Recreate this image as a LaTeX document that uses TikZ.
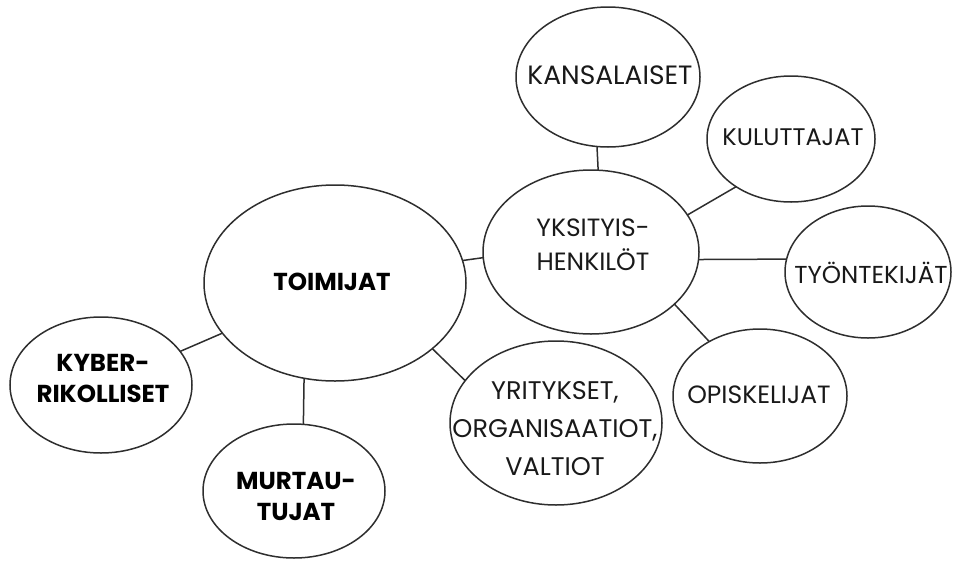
\documentclass[tikz,border=0pt]{standalone}
\usepackage{fontspec}
\setmainfont{Poppins}
\usetikzlibrary{shapes.geometric}
\tikzset{
  bub/.style={ellipse, draw=black!82, line width=1.5pt, inner sep=0pt, outer sep=0pt},
  conn/.style={draw=black!82, line width=1.5pt},
  lbl/.style={inner sep=0pt, align=center, text=black!90, font=\fontsize{25}{34}\selectfont},
  blbl/.style={inner sep=0pt, align=center, text=black, font=\fontsize{24.5}{31}\selectfont\bfseries},
}
\begin{document}
\begin{tikzpicture}[x=1pt,y=-1pt]
\useasboundingbox (0,0) rectangle (953,560);
% bubbles
\node[bub, minimum width=184pt, minimum height=140pt] (kans) at (608,77) {};
\node[bub, minimum width=168pt, minimum height=126pt] (kul) at (791,139) {};
\node[bub, minimum width=216pt, minimum height=164pt] (yks) at (591,252) {};
\node[bub, minimum width=166pt, minimum height=132pt] (tyo) at (868,272) {};
\node[bub, minimum width=174pt, minimum height=134pt] (opi) at (760,396) {};
\node[bub, minimum width=212pt, minimum height=164pt] (yri) at (556,423) {};
\node[bub, minimum width=262pt, minimum height=196pt] (toim) at (335,283) {};
\node[bub, minimum width=182pt, minimum height=136pt] (kyb) at (101,385) {};
\node[bub, minimum width=182pt, minimum height=134pt] (mur) at (294,491) {};
% labels
\node[lbl, font=\fontsize{26.5}{34}\selectfont] (kans-t) at (610,75) {KANSALAISET};
\node[lbl, font=\fontsize{24}{34}\selectfont] (kul-t) at (793,137) {KULUTTAJAT};
\node[lbl] (yks-t) at (593,245) {YKSITYIS-\\HENKILÖT};
\node[lbl, font=\fontsize{24.5}{34}\selectfont] (tyo-t) at (871,273) {TYÖNTEKIJÄT};
\node[lbl] (opi-t) at (759,395) {OPISKELIJAT};
\node[lbl, font=\fontsize{25.5}{38}\selectfont] (yri-t) at (555,429) {YRITYKSET,\\ORGANISAATIOT,\\VALTIOT};
\node[blbl] (toim-t) at (332,282) {TOIMIJAT};
\node[blbl] (kyb-t) at (103,378) {KYBER-\\RIKOLLISET};
\node[blbl] (mur-t) at (296,496) {MURTAU-\\TUJAT};
% connectors
\draw[conn] (kans.261.8) -- (yks.85);
\draw[conn] (kul.221.6) -- (yks.21.7);
\draw[conn] (yks.356.3) -- (tyo.171);
\draw[conn] (yks.328) -- (opi.133.3);
\draw[conn] (toim.10.7) -- (yks.183.7);
\draw[conn] (toim.326.7) -- (yri.155.5);
\draw[conn] (toim.204.7) -- (kyb.23.3);
\draw[conn] (toim.252) -- (mur.82.3);
\end{tikzpicture}
\end{document}
